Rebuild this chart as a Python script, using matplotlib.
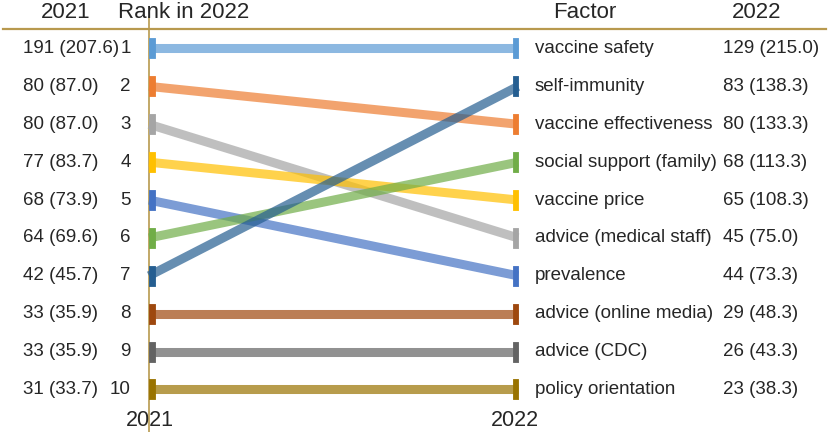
import matplotlib
matplotlib.use("Agg")
import matplotlib.pyplot as plt
from matplotlib.transforms import blended_transform_factory

plt.rcParams['font.family'] = ['Liberation Sans', 'DejaVu Sans']

# === Data ===
factors_2022 = ["vaccine safety", "self-immunity", "vaccine effectiveness",
                "social support (family)", "vaccine price", "advice (medical staff)",
                "prevalence", "advice (online media)", "advice (CDC)", "policy orientation"]
values_2022 = ["129 (215.0)", "83 (138.3)", "80 (133.3)", "68 (113.3)", "65 (108.3)",
               "45 (75.0)", "44 (73.3)", "29 (48.3)", "26 (43.3)", "23 (38.3)"]
values_2021 = ["191 (207.6)", "80 (87.0)", "80 (87.0)", "77 (83.7)", "68 (73.9)",
               "64 (69.6)", "42 (45.7)", "33 (35.9)", "33 (35.9)", "31 (33.7)"]
ranks_left = [1, 2, 3, 4, 5, 6, 7, 8, 9, 10]
# 2022 rank reached by the factor that sat on each left row
ranks_right = [1, 3, 6, 5, 7, 4, 2, 8, 9, 10]
line_colors = ["#5B9BD5", "#ED7D31", "#A5A5A5", "#FFC000", "#4472C4",
               "#70AD47", "#255E91", "#9E480E", "#636363", "#997300"]
gold = "#B8994E"
txt = "#262626"

W, H = 829, 432
fig = plt.figure(figsize=(W / 100, H / 100), dpi=100)
ax = fig.add_axes([0, 0, 1, 1])

# pixel layout: x=0 (2021) at px 149, x=1 (2022) at px 518; rank 1 at 48.5, rank 10 at 389.5
x0_px, x1_px = 149, 518
sx = x1_px - x0_px
r1_px, r10_px = 48.5, 389.5
sy = (r10_px - r1_px) / 9
ax.set_xlim(-x0_px / sx, (W - x0_px) / sx)
ax.set_ylim(1 + (H - r1_px) / sy, 1 - r1_px / sy)
ax.axis("off")

# markers: thin bars hugging the inner side of each end
left_bar = [(0, -1), (0.55, -1), (0.55, 1), (0, 1), (0, -1)]
right_bar = [(0, -1), (-0.55, -1), (-0.55, 1), (0, 1), (0, -1)]

for r0, r1, c in zip(ranks_left, ranks_right, line_colors):
    ax.plot([0, 1], [r0, r1], color=c, alpha=0.7, lw=6.5, solid_capstyle="butt", zorder=2)
    ax.plot([0], [r0], marker=left_bar, ms=14.4, color=c, mew=0.6, mec=c, zorder=3)
    ax.plot([1], [r1], marker=right_bar, ms=14.4, color=c, mew=0.6, mec=c, zorder=3)

# axis lines
ax.plot([0, 0], [1 - (r1_px - 17) / sy, 1 + (H - r1_px) / sy], color=gold, lw=1.2, zorder=1)
ax.plot([(3 - x0_px) / sx, (826 - x0_px) / sx], [1 - (r1_px - 29) / sy] * 2,
        color=gold, lw=1.6, zorder=1)

# row labels
tr = blended_transform_factory(ax.transAxes, ax.transData)
fs = 13.5
for i in range(10):
    y = i + 1
    ax.text(23 / W, y, values_2021[i], transform=tr, ha="left", va="center", fontsize=fs, color=txt)
    ax.text(131 / W, y, str(ranks_left[i]), transform=tr, ha="right", va="center", fontsize=fs, color=txt)
    ax.text(535 / W, y, factors_2022[i], transform=tr, ha="left", va="center", fontsize=fs, color=txt)
    ax.text(723 / W, y, values_2022[i], transform=tr, ha="left", va="center", fontsize=fs, color=txt)

# headers
hy = 1 - 12 / H
ax.text(66 / W, hy, "2021", transform=ax.transAxes, ha="center", va="center", fontsize=16, color=txt)
ax.text(118 / W, hy, "Rank in 2022", transform=ax.transAxes, ha="left", va="center", fontsize=16, color=txt)
ax.text(585 / W, hy, "Factor", transform=ax.transAxes, ha="center", va="center", fontsize=16, color=txt)
ax.text(757 / W, hy, "2022", transform=ax.transAxes, ha="center", va="center", fontsize=16, color=txt)

# bottom year labels
by = 1 - 420 / H
ax.text(149.5 / W, by, "2021", transform=ax.transAxes, ha="center", va="center", fontsize=15.5, color=txt)
ax.text(515 / W, by, "2022", transform=ax.transAxes, ha="center", va="center", fontsize=15.5, color=txt)

fig.savefig("out.png", dpi=100)
